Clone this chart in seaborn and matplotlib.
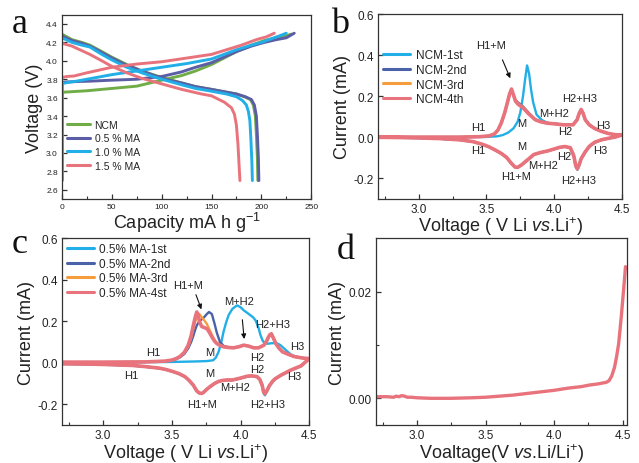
"""
Four-panel figure: charge/discharge curves (a), CV cycles (b, c) and LSV (d).
"""

import numpy as np
import pandas as pd
import matplotlib
matplotlib.use("Agg")
import matplotlib.pyplot as plt
import seaborn as sns
from matplotlib.ticker import MultipleLocator, FormatStrFormatter

# ---------------- panel a : capacity (mA h g-1) vs voltage (V)
a_samples = ["NCM", "0.5 % MA", "1.0 % MA", "1.5 % MA"]
a_colors = ["#70ad47", "#5b5ea6", "#22aee6", "#e8737c"]

ncm_chg_cap = [0, 0, 2, 10, 25, 50, 75, 100, 120, 134, 150, 175, 190, 203, 215, 225, 230]
ncm_chg_v = [2.70, 3.64, 3.66, 3.665, 3.675, 3.70, 3.725, 3.79, 3.84, 3.89, 3.96, 4.10, 4.17, 4.22, 4.25, 4.27, 4.29]
ncm_dis_cap = [0, 10, 20, 28, 40, 50, 65, 80, 100, 120, 134, 150, 165, 175, 183, 189, 192, 194, 195, 196, 196.5]
ncm_dis_v = [4.29, 4.23, 4.20, 4.17, 4.10, 4.04, 3.96, 3.89, 3.82, 3.76, 3.72, 3.69, 3.66, 3.64, 3.61, 3.58, 3.52, 3.40, 3.20, 2.95, 2.70]

ma05_chg_cap = [0, 0, 3, 15, 30, 50, 75, 100, 120, 134, 150, 175, 190, 203, 215, 225, 233]
ma05_chg_v = [2.70, 3.76, 3.77, 3.775, 3.78, 3.79, 3.80, 3.83, 3.88, 3.93, 3.98, 4.10, 4.16, 4.20, 4.23, 4.25, 4.30]
ma05_dis_cap = [0, 10, 20, 28, 40, 50, 65, 80, 100, 120, 134, 150, 165, 175, 184, 190, 193, 195, 196, 197, 197.5]
ma05_dis_v = [4.27, 4.22, 4.19, 4.16, 4.09, 4.03, 3.95, 3.89, 3.81, 3.76, 3.72, 3.69, 3.66, 3.64, 3.61, 3.58, 3.52, 3.40, 3.20, 2.95, 2.70]

ma10_chg_cap = [0, 0, 3, 15, 30, 50, 75, 100, 125, 150, 175, 190, 200, 210, 218, 225]
ma10_chg_v = [2.70, 3.75, 3.76, 3.78, 3.81, 3.85, 3.89, 3.93, 3.97, 4.02, 4.12, 4.17, 4.20, 4.24, 4.27, 4.30]
ma10_dis_cap = [0, 10, 20, 28, 40, 50, 65, 80, 100, 120, 134, 150, 165, 175, 181, 185, 187, 188.5, 189.5, 190.5, 191]
ma10_dis_v = [4.25, 4.20, 4.17, 4.15, 4.07, 4.01, 3.93, 3.87, 3.80, 3.74, 3.70, 3.67, 3.64, 3.61, 3.57, 3.52, 3.45, 3.35, 3.15, 2.90, 2.70]

ma15_chg_cap = [0, 0, 5, 12, 25, 50, 75, 100, 125, 150, 165, 180, 195, 205, 213]
ma15_chg_v = [2.70, 3.82, 3.83, 3.835, 3.87, 3.93, 3.965, 3.99, 4.03, 4.07, 4.12, 4.17, 4.23, 4.26, 4.30]
ma15_dis_cap = [0, 10, 20, 28, 40, 50, 65, 80, 100, 120, 140, 150, 163, 170, 173, 175, 176.5, 177.5, 178.5]
ma15_dis_v = [4.19, 4.16, 4.11, 4.07, 4.00, 3.94, 3.87, 3.81, 3.75, 3.69, 3.64, 3.62, 3.55, 3.49, 3.42, 3.30, 3.10, 2.90, 2.70]

# ---------------- panel b : NCM CV cycles
b_cycles = ["NCM-1st", "NCM-2nd", "NCM-3rd", "NCM-4th"]
b1_up_v = [2.70, 3.00, 3.30, 3.50, 3.58, 3.62, 3.66, 3.70, 3.73, 3.75, 3.77, 3.785, 3.80, 3.815, 3.83,
           3.845, 3.87, 3.91, 3.95, 4.00, 4.07, 4.14, 4.17, 4.185, 4.20, 4.215, 4.23, 4.26, 4.30, 4.35,
           4.40, 4.45, 4.50]
b1_up = [0.0, 0.0, 0.0, 0.001, 0.004, 0.01, 0.022, 0.043, 0.075, 0.12, 0.2, 0.28, 0.35, 0.31, 0.23,
         0.17, 0.11, 0.083, 0.07, 0.066, 0.061, 0.06, 0.085, 0.115, 0.133, 0.115, 0.085, 0.06, 0.042, 0.028,
         0.018, 0.012, 0.01]
b_up_v = [2.70, 3.00, 3.30, 3.45, 3.52, 3.56, 3.585, 3.61, 3.635, 3.655, 3.67, 3.685, 3.70, 3.715, 3.735,
          3.77, 3.81, 3.86, 3.90, 3.95, 4.00, 4.07, 4.14, 4.17, 4.185, 4.20, 4.215, 4.23, 4.26, 4.30,
          4.35, 4.40, 4.45, 4.50]
b2_up = [0.0, 0.0, 0.0, 0.002, 0.006, 0.016, 0.035, 0.07, 0.12, 0.168, 0.205, 0.23, 0.205, 0.18, 0.168,
         0.15, 0.12, 0.087, 0.076, 0.069, 0.066, 0.061, 0.061, 0.086, 0.116, 0.134, 0.115, 0.085, 0.06, 0.042,
         0.028, 0.018, 0.012, 0.01]
b3_up = [0.0, 0.0, 0.0, 0.002, 0.006, 0.016, 0.035, 0.07, 0.12, 0.17, 0.208, 0.232, 0.205, 0.178, 0.164,
         0.147, 0.117, 0.086, 0.075, 0.068, 0.065, 0.06, 0.06, 0.085, 0.115, 0.134, 0.115, 0.085, 0.06, 0.042,
         0.028, 0.018, 0.012, 0.01]
b4_up = [0.0, 0.0, 0.0, 0.002, 0.006, 0.016, 0.035, 0.07, 0.12, 0.17, 0.21, 0.235, 0.205, 0.175, 0.16,
         0.143, 0.115, 0.085, 0.075, 0.068, 0.065, 0.06, 0.06, 0.085, 0.115, 0.135, 0.115, 0.085, 0.06, 0.042,
         0.028, 0.018, 0.012, 0.01]
b_dn_v = [4.50, 4.45, 4.40, 4.35, 4.30, 4.26, 4.23, 4.20, 4.185, 4.172, 4.16, 4.145, 4.12, 4.08, 4.04,
          4.00, 3.95, 3.90, 3.85, 3.80, 3.76, 3.73, 3.71, 3.68, 3.65, 3.61, 3.57, 3.52, 3.47, 3.40,
          3.30, 3.15, 3.00, 2.85, 2.70]
b1_dn = [0.01, 0.0, -0.006, -0.014, -0.027, -0.047, -0.075, -0.108, -0.14, -0.16, -0.145, -0.093, -0.054,
         -0.047, -0.051, -0.059, -0.068, -0.076, -0.086, -0.114, -0.136, -0.149, -0.147, -0.126, -0.101,
         -0.081, -0.066, -0.049, -0.036, -0.023, -0.014, -0.008, -0.005, -0.003, -0.002]
b_dn = [0.01, 0.0, -0.006, -0.013, -0.025, -0.045, -0.072, -0.105, -0.135, -0.155, -0.14, -0.09, -0.052,
        -0.046, -0.05, -0.058, -0.068, -0.075, -0.085, -0.113, -0.135, -0.148, -0.146, -0.125, -0.1,
        -0.08, -0.065, -0.048, -0.035, -0.022, -0.013, -0.007, -0.004, -0.002, -0.001]

# ---------------- panel c : 0.5% MA CV cycles
c_cycles = ["0.5% MA-1st", "0.5% MA-2nd", "0.5% MA-3rd", "0.5% MA-4st"]
c1_up_v = [2.70, 3.00, 3.30, 3.50, 3.65, 3.75, 3.80, 3.82, 3.84, 3.86, 3.876, 3.895, 3.913, 3.94, 3.974,
           4.00, 4.023, 4.05, 4.072, 4.09, 4.109, 4.13, 4.145, 4.16, 4.175, 4.20, 4.22, 4.245, 4.268, 4.29,
           4.317, 4.34, 4.366, 4.40, 4.44, 4.50]
c1_up = [0.003, 0.003, 0.003, 0.004, 0.006, 0.008, 0.012, 0.025, 0.053, 0.1, 0.15, 0.195, 0.23, 0.26, 0.277,
         0.268, 0.253, 0.24, 0.229, 0.22, 0.205, 0.17, 0.133, 0.108, 0.093, 0.092, 0.094, 0.095, 0.093, 0.085,
         0.069, 0.055, 0.04, 0.03, 0.024, 0.02]
c_up_v = [2.70, 3.00, 3.30, 3.45, 3.50, 3.53, 3.558, 3.59, 3.619, 3.64, 3.656, 3.67, 3.681, 3.69, 3.70,
          3.717, 3.735, 3.754, 3.77, 3.791, 3.81, 3.827, 3.85, 3.876, 3.91, 3.949, 3.99, 4.023, 4.06, 4.096,
          4.13, 4.17, 4.19, 4.20, 4.212, 4.224, 4.24, 4.256, 4.28, 4.305, 4.35, 4.39, 4.45, 4.50]
c2_up = [0.003, 0.003, 0.004, 0.007, 0.011, 0.017, 0.026, 0.042, 0.07, 0.1, 0.13, 0.16, 0.18, 0.19, 0.2,
         0.21, 0.22, 0.235, 0.245, 0.235, 0.19, 0.145, 0.1, 0.082, 0.075, 0.072, 0.078, 0.085, 0.08, 0.072,
         0.072, 0.085, 0.105, 0.12, 0.134, 0.138, 0.117, 0.092, 0.07, 0.053, 0.04, 0.03, 0.023, 0.02]
c3_up = [0.003, 0.003, 0.004, 0.008, 0.013, 0.02, 0.03, 0.048, 0.08, 0.12, 0.165, 0.2, 0.222, 0.232, 0.235,
         0.22, 0.205, 0.188, 0.165, 0.135, 0.11, 0.095, 0.085, 0.078, 0.074, 0.072, 0.078, 0.085, 0.08, 0.072,
         0.072, 0.085, 0.105, 0.12, 0.134, 0.138, 0.117, 0.092, 0.07, 0.053, 0.04, 0.03, 0.023, 0.02]
c4_up = [0.003, 0.003, 0.004, 0.008, 0.013, 0.02, 0.03, 0.05, 0.085, 0.13, 0.18, 0.22, 0.245, 0.235, 0.2,
         0.175, 0.17, 0.165, 0.15, 0.125, 0.105, 0.093, 0.084, 0.077, 0.074, 0.072, 0.078, 0.085, 0.08, 0.072,
         0.072, 0.085, 0.105, 0.12, 0.135, 0.14, 0.118, 0.093, 0.07, 0.053, 0.04, 0.03, 0.023, 0.02]
c_dn_v = [4.50, 4.44, 4.366, 4.293, 4.25, 4.232, 4.21, 4.195, 4.185, 4.177, 4.167, 4.157, 4.14, 4.12, 4.08,
          4.047, 4.01, 3.974, 3.94, 3.90, 3.87, 3.84, 3.81, 3.778, 3.75, 3.73, 3.717, 3.70, 3.68, 3.656,
          3.625, 3.595, 3.55, 3.51, 3.46, 3.41, 3.30, 3.215, 3.00, 2.85, 2.70]
c1_dn = [0.02, -0.016, -0.037, -0.062, -0.08, -0.093, -0.113, -0.134, -0.147, -0.157, -0.146, -0.112, -0.082,
         -0.068, -0.064, -0.066, -0.073, -0.079, -0.084, -0.084, -0.086, -0.091, -0.101, -0.116, -0.131,
         -0.144, -0.149, -0.147, -0.136, -0.109, -0.086, -0.068, -0.053, -0.044, -0.034, -0.027, -0.019,
         -0.014, -0.009, -0.007, -0.006]
c_dn = [0.02, -0.015, -0.035, -0.06, -0.078, -0.09, -0.11, -0.13, -0.142, -0.15, -0.14, -0.108, -0.08,
        -0.067, -0.063, -0.065, -0.072, -0.078, -0.083, -0.083, -0.085, -0.09, -0.1, -0.115, -0.13,
        -0.143, -0.148, -0.146, -0.135, -0.108, -0.085, -0.067, -0.052, -0.043, -0.033, -0.026, -0.018,
        -0.013, -0.008, -0.006, -0.005]

cv_colors = ["#22aee6", "#4a62a8", "#f59c3c", "#e8737c"]
cv_widths = [1.7, 1.7, 1.7, 2.6]

# ---------------- panel d : LSV
d_v = [2.70, 2.78, 2.83, 2.85, 2.87, 2.89, 2.91, 2.93, 2.96, 3.00, 3.10, 3.25, 3.40, 3.50, 3.60, 3.70,
       3.80, 3.90, 4.00, 4.05, 4.10, 4.20, 4.26, 4.32, 4.38, 4.40, 4.42, 4.44, 4.455, 4.47, 4.48, 4.49,
       4.50, 4.51, 4.52]
d_i = [0.0003, 0.0003, 0.0002, 0.0004, 0.0003, 0.0005, 0.0004, 0.0002, 0.0002, 0.0001, 0.0, 0.0, 0.0001,
       0.0002, 0.0004, 0.0006, 0.0009, 0.0012, 0.0015, 0.0017, 0.0019, 0.0022, 0.0025, 0.0027, 0.0030,
       0.0033, 0.0042, 0.0058, 0.0078, 0.0102, 0.0128, 0.0155, 0.0185, 0.0215, 0.0247]

# ---------------- style
sns.set_theme(style="white")
plt.rcParams["font.family"] = ["Liberation Sans", "DejaVu Sans"]
plt.rcParams["mathtext.fontset"] = "custom"
plt.rcParams["mathtext.rm"] = "Liberation Sans"
plt.rcParams["mathtext.it"] = "Liberation Sans:italic"
plt.rcParams["axes.unicode_minus"] = False
plt.rcParams["axes.edgecolor"] = "#333333"
plt.rcParams["axes.linewidth"] = 0.9

LABEL_FS = 13
TXT = "#222222"


def style_axes(ax, tick_fs):
    ax.tick_params(which="both", direction="in", colors="#333333", labelcolor=TXT,
                   labelsize=tick_fs, left=True, bottom=True, top=False, right=False)
    ax.tick_params(which="major", length=3.5, width=0.9, pad=3)
    ax.tick_params(which="minor", length=2, width=0.8)


def cv_frame(labels, volts, currents):
    parts = []
    for lab, v, i in zip(labels, volts, currents):
        parts.append(pd.DataFrame({"voltage": v, "current": i, "cycle": lab}))
    return pd.concat(parts, ignore_index=True)


def restyle_legend(ax, fs, anchor, handlelength, spacing):
    leg = ax.get_legend()
    handles = leg.legend_handles
    labels = [t.get_text() for t in leg.get_texts()]
    new = ax.legend(handles, labels, loc="upper left", bbox_to_anchor=anchor, frameon=False,
                    fontsize=fs, handlelength=handlelength, handletextpad=0.45,
                    labelspacing=spacing, borderaxespad=0.0, borderpad=0.0)
    for h in new.legend_handles:
        h.set_linewidth(2.2)


fig = plt.figure(figsize=(6.39, 4.64), dpi=100)
ax_a = fig.add_axes([0.097, 0.569, 0.390, 0.397])
ax_b = fig.add_axes([0.592, 0.570, 0.381, 0.397])
ax_c = fig.add_axes([0.097, 0.082, 0.387, 0.402])
ax_d = fig.add_axes([0.588, 0.082, 0.393, 0.402])

# ---------------- a
a_parts = []
for name, cc, cv, dc, dv in [
    (a_samples[0], ncm_chg_cap, ncm_chg_v, ncm_dis_cap, ncm_dis_v),
    (a_samples[1], ma05_chg_cap, ma05_chg_v, ma05_dis_cap, ma05_dis_v),
    (a_samples[2], ma10_chg_cap, ma10_chg_v, ma10_dis_cap, ma10_dis_v),
    (a_samples[3], ma15_chg_cap, ma15_chg_v, ma15_dis_cap, ma15_dis_v),
]:
    a_parts.append(pd.DataFrame({"capacity": cc, "voltage": cv, "sample": name, "branch": "charge"}))
    a_parts.append(pd.DataFrame({"capacity": dc, "voltage": dv, "sample": name, "branch": "discharge"}))
df_a = pd.concat(a_parts, ignore_index=True)

sns.lineplot(data=df_a, x="capacity", y="voltage", hue="sample", units="branch",
             estimator=None, sort=False, hue_order=a_samples,
             palette=dict(zip(a_samples, a_colors)), linewidth=2.1, ax=ax_a)
ax_a.set_xlim(0, 250)
ax_a.set_ylim(2.5, 4.5)
ax_a.xaxis.set_major_locator(MultipleLocator(50))
ax_a.xaxis.set_minor_locator(MultipleLocator(25))
ax_a.set_yticks(np.arange(2.6, 4.41, 0.2))
ax_a.yaxis.set_major_formatter(FormatStrFormatter("%.1f"))
style_axes(ax_a, 6)
ax_a.set_xlabel(r"Capacity mA h g$^{-1}$", fontsize=LABEL_FS, color=TXT, labelpad=0)
ax_a.set_ylabel("Voltage (V)", fontsize=LABEL_FS, color=TXT, labelpad=2)
restyle_legend(ax_a, 7.5, (0.02, 0.43), 2.2, 0.35)

# ---------------- b
df_b = cv_frame(b_cycles,
                [b1_up_v + b_dn_v, b_up_v + b_dn_v, b_up_v + b_dn_v, b_up_v + b_dn_v],
                [b1_up + b1_dn, b2_up + b_dn, b3_up + b_dn, b4_up + b_dn])
sns.lineplot(data=df_b, x="voltage", y="current", hue="cycle", size="cycle",
             estimator=None, sort=False, hue_order=b_cycles,
             palette=dict(zip(b_cycles, cv_colors)), sizes=dict(zip(b_cycles, cv_widths)), ax=ax_b)

# ---------------- c
df_c = cv_frame(c_cycles,
                [c1_up_v + c_dn_v, c_up_v + c_dn_v, c_up_v + c_dn_v, c_up_v + c_dn_v],
                [c1_up + c1_dn, c2_up + c_dn, c3_up + c_dn, c4_up + c_dn])
sns.lineplot(data=df_c, x="voltage", y="current", hue="cycle", size="cycle",
             estimator=None, sort=False, hue_order=c_cycles,
             palette=dict(zip(c_cycles, cv_colors)), sizes=dict(zip(c_cycles, cv_widths)), ax=ax_c)

for ax in (ax_b, ax_c):
    ax.set_xlim(2.7, 4.5)
    ax.set_ylim(-0.3, 0.6)
    ax.set_xticks([3.0, 3.5, 4.0, 4.5])
    ax.xaxis.set_minor_locator(MultipleLocator(0.25))
    ax.set_yticks([-0.2, 0.0, 0.2, 0.4, 0.6])
    ax.yaxis.set_major_formatter(FormatStrFormatter("%.1f"))
    style_axes(ax, 8.5)
    ax.set_xlabel(r"Voltage ( V Li $\mathit{vs}$.Li$^{+}$)", fontsize=LABEL_FS, color=TXT, labelpad=0)
    ax.set_ylabel("Current (mA)", fontsize=LABEL_FS, color=TXT, labelpad=2)

restyle_legend(ax_b, 8.5, (0.02, 0.81), 2.3, 0.22)
restyle_legend(ax_c, 8.5, (0.02, 0.975), 2.3, 0.22)

# peak labels (voltage, current)
b_notes = [("H1+M", 3.535, 0.45), ("M", 3.76, 0.068), ("M+H2", 4.0, 0.12), ("H2+H3", 4.19, 0.19),
           ("H3", 4.36, 0.06), ("H2", 4.08, 0.03), ("H1", 3.44, 0.05), ("H1", 3.44, -0.065),
           ("M", 3.76, -0.045), ("M+H2", 3.915, -0.135), ("H2", 4.075, -0.09), ("H3", 4.34, -0.065),
           ("H1+M", 3.72, -0.19), ("H2+H3", 4.18, -0.21)]
c_notes = [("H1+M", 3.62, 0.373), ("M+H2", 3.986, 0.30), ("H2+H3", 4.231, 0.188), ("H3", 4.415, 0.083),
           ("H2", 4.121, 0.03), ("M", 3.778, 0.054), ("H1", 3.367, 0.051), ("H1", 3.203, -0.058),
           ("M", 3.778, -0.05), ("H2", 4.121, -0.029), ("M+H2", 3.962, -0.117), ("H3", 4.39, -0.064),
           ("H1+M", 3.717, -0.197), ("H2+H3", 4.195, -0.197)]
for ax, notes in ((ax_b, b_notes), (ax_c, c_notes)):
    for txt, x, y in notes:
        ax.text(x, y, txt, fontsize=8, color=TXT, ha="center", va="center")

arrow_kw = dict(arrowstyle="-|>", color="#111111", lw=0.8, mutation_scale=7)
ax_b.annotate("", xy=(3.684, 0.275), xytext=(3.61, 0.39), arrowprops=arrow_kw)
ax_c.annotate("", xy=(3.722, 0.245), xytext=(3.668, 0.341), arrowprops=arrow_kw)
ax_c.annotate("", xy=(4.028, 0.101), xytext=(4.011, 0.221), arrowprops=arrow_kw)

# ---------------- d
df_d = pd.DataFrame({"voltage": d_v, "current": d_i})
sns.lineplot(data=df_d, x="voltage", y="current", estimator=None, sort=False,
             color="#e8737c", linewidth=2.4, ax=ax_d)
ax_d.set_xlim(2.7, 4.53)
ax_d.set_ylim(-0.005, 0.03)
ax_d.set_xticks([3.0, 3.5, 4.0, 4.5])
ax_d.xaxis.set_minor_locator(MultipleLocator(0.25))
ax_d.set_yticks([0.0, 0.02])
ax_d.set_yticks([0.01], minor=True)
ax_d.yaxis.set_major_formatter(FormatStrFormatter("%.2f"))
style_axes(ax_d, 8.5)
ax_d.set_xlabel(r"Voaltage(V $\mathit{vs}$.Li/Li$^{+}$)", fontsize=LABEL_FS, color=TXT, labelpad=0)
ax_d.set_ylabel("Current (mA)", fontsize=LABEL_FS, color=TXT, labelpad=2)

# ---------------- panel letters
for letter, x, y in (("a", 12, 33), ("b", 331, 33), ("c", 12, 253), ("d", 337, 259)):
    fig.text(x / 639, 1 - y / 464, letter, fontsize=26, family="Liberation Serif",
             color="#111111", va="baseline", ha="left")

fig.savefig("out.png", dpi=100)
plt.close(fig)
